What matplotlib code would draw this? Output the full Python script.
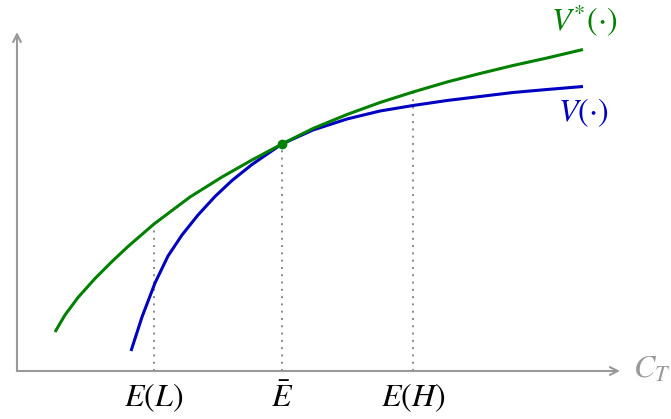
import matplotlib.pyplot as plt

plt.rcParams['mathtext.fontset'] = 'stix'

#-------------Data-------------

v_star_x = [0.76, 0.96, 1.22, 1.56, 1.90, 2.22, 2.74, 3.46, 4.10, 4.70,
            5.30, 5.92, 6.60, 7.26, 7.92, 8.60, 9.26, 9.92, 10.60, 11.32]
v_star_y = [0.78, 1.12, 1.47, 1.85, 2.19, 2.49, 2.94, 3.48, 3.88, 4.22,
            4.54, 4.85, 5.13, 5.37, 5.58, 5.78, 5.95, 6.11, 6.26, 6.43]

v_x = [2.28, 2.50, 2.76, 3.02, 3.30, 3.62, 3.96, 4.30, 4.70, 5.02,
       5.30, 5.92, 6.60, 7.26, 7.92, 8.60, 9.26, 9.92, 10.60, 11.32]
v_y = [0.40, 1.08, 1.76, 2.30, 2.72, 3.12, 3.49, 3.81, 4.13, 4.35,
       4.54, 4.82, 5.04, 5.20, 5.31, 5.41, 5.49, 5.57, 5.63, 5.69]

tick_x = [2.74, 5.30, 7.92]
tick_top = [2.94, 4.54, 5.58]
tick_labels = [r'$E(L)$', r'$\bar{E}$', r'$E(H)$']

tangent_x = 5.30
tangent_y = 4.54

green = '#008000'
blue = '#0000c0'
grey = '#999999'

#-------------Figure-------------

fig = plt.figure(figsize=(6.71, 4.19), dpi=100)
ax = fig.add_axes([0, 0, 1, 1])
ax.set_xlim(-0.34, 13.08)
ax.set_ylim(-0.96, 7.42)
ax.axis('off')

# axes with open arrow heads
ax.annotate('', xy=(12.06, 0), xytext=(0, 0),
            arrowprops=dict(arrowstyle='->', color=grey, lw=1.5,
                            shrinkA=0, shrinkB=0, mutation_scale=14))
ax.annotate('', xy=(0, 6.78), xytext=(0, 0),
            arrowprops=dict(arrowstyle='->', color=grey, lw=1.5,
                            shrinkA=0, shrinkB=0, mutation_scale=14))

# dotted guides
for x, top in zip(tick_x, tick_top):
    ax.plot([x, x], [0, top], color='#888888', lw=1.4, ls=(0, (1, 2.75)), zorder=1)

# curves
ax.plot(v_x, v_y, color=blue, lw=2.2, solid_capstyle='butt',
        solid_joinstyle='round', zorder=2)
ax.plot(v_star_x, v_star_y, color=green, lw=2.2, solid_capstyle='butt',
        solid_joinstyle='round', zorder=3)
ax.plot([tangent_x], [tangent_y], 'o', color=green, ms=6, zorder=4)

# labels
for x, lab in zip(tick_x, tick_labels):
    ax.text(x, -0.54, lab, ha='center', va='center', fontsize=23)

ax.text(11.34, 7.0, r'$V^{*}(\cdot)$', color=green, fontsize=23,
        ha='center', va='center')
ax.text(11.32, 5.16, r'$V(\cdot)$', color=blue, fontsize=23,
        ha='center', va='center')
ax.text(12.32, 0.04, r'$C_T$', color=grey, fontsize=23, ha='left', va='center')

plt.savefig('out.png', dpi=100)
